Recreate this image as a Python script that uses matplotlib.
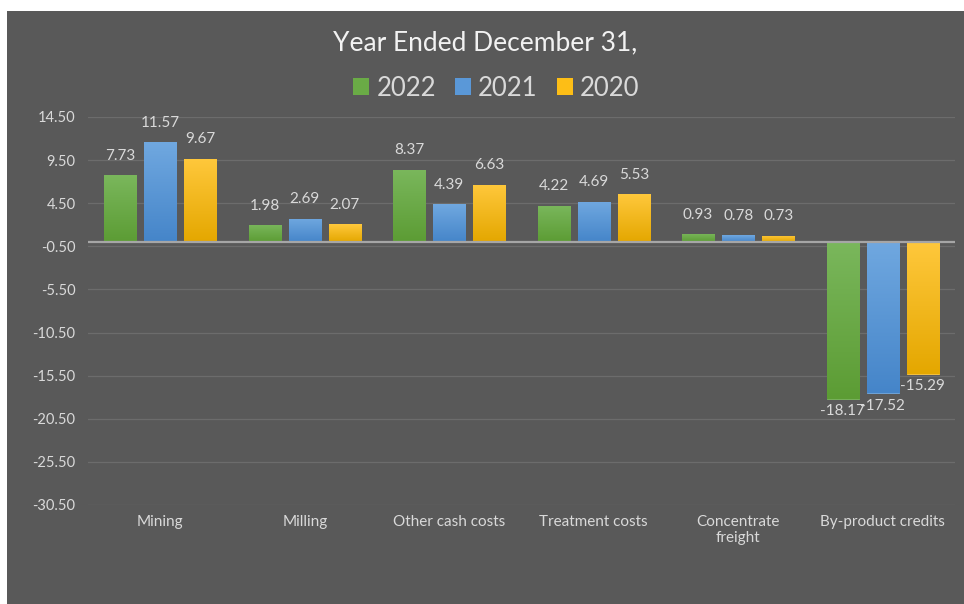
import matplotlib.pyplot as plt
import numpy as np
from matplotlib.colors import LinearSegmentedColormap
from matplotlib.patches import Rectangle, Patch

plt.rcParams['font.family'] = ['Lato', 'DejaVu Sans']

categories = ['Mining', 'Milling', 'Other cash costs', 'Treatment costs',
              'Concentrate\nfreight', 'By-product credits']
years = ['2022', '2021', '2020']
values_2022 = [7.73, 1.98, 8.37, 4.22, 0.93, -18.17]
values_2021 = [11.57, 2.69, 4.39, 4.69, 0.78, -17.52]
values_2020 = [9.67, 2.07, 6.63, 5.53, 0.73, -15.29]
yticks = [14.50, 9.50, 4.50, -0.50, -5.50, -10.50, -15.50, -20.50, -25.50, -30.50]

series = [values_2022, values_2021, values_2020]
# (top colour, bottom colour) for the vertical gradient on each bar
shades = [('#7ab75c', '#5c9c34'), ('#70a8e0', '#4585c9'), ('#ffc83c', '#e4a700')]
legend_colors = ['#6aab46', '#5a98d8', '#fdbe16']

bg = '#595959'
txt = '#d9d9d9'

fig = plt.figure(figsize=(9.64, 6.04), dpi=100, facecolor='white')
fig.patches.append(Rectangle((7 / 964, 0), 1, 1 - 11 / 604, transform=fig.transFigure,
                             facecolor=bg, edgecolor='none', zorder=-10))

ax = fig.add_axes([88 / 964, 1 - 505 / 604, (955 - 88) / 964, (505 - 117) / 604])
ax.set_zorder(1)
ax.patch.set_alpha(0)

x = np.arange(len(categories))
width = 0.222
step = 0.278
ymin, ymax = -30.5, 14.5

for i, (vals, (c_top, c_bot)) in enumerate(zip(series, shades)):
    cmap = LinearSegmentedColormap.from_list(f'g{i}', [c_bot, c_top])
    grad = np.linspace(0, 1, 256).reshape(-1, 1)
    bars = ax.bar(x + (i - 1) * step, vals, width, color=c_top, edgecolor=c_top,
                  linewidth=0.6, zorder=3)
    for b, v in zip(bars, vals):
        x0 = b.get_x()
        y_lo, y_hi = min(0, v), max(0, v)
        im = ax.imshow(grad, cmap=cmap, origin='lower', aspect='auto',
                       extent=[x0, x0 + b.get_width(), y_lo, y_hi], zorder=3.5)
        im.set_clip_path(b)
        if v >= 0:
            ax.annotate(f'{v:.2f}', (b.get_x() + b.get_width() / 2, v),
                        xytext=(0, 14), textcoords='offset points',
                        ha='center', va='center', fontsize=11, color=txt)
        else:
            ax.annotate(f'{v:.2f}', (b.get_x() + b.get_width() / 2, v),
                        xytext=(0, -9), textcoords='offset points',
                        ha='center', va='center', fontsize=11, color=txt)

ax.set_xlim(-0.5, len(categories) - 0.5)
ax.set_ylim(ymin, ymax)
ax.set_yticks(yticks)
ax.set_yticklabels([f'{t:.2f}' for t in yticks])
ax.set_xticks(x)
ax.set_xticklabels(categories)
ax.grid(axis='y', color='#6c6c6c', linewidth=0.9, zorder=1)
ax.axhline(0, color='#a6a6a6', linewidth=1.6, zorder=4)
ax.tick_params(axis='y', length=0, pad=9, labelsize=10.5, labelcolor=txt)
ax.tick_params(axis='x', length=0, pad=7, labelsize=11, labelcolor=txt)
for s in ax.spines.values():
    s.set_visible(False)

fig.text(0.503, 1 - 43 / 604, 'Year Ended December 31,', ha='center', va='center',
         fontsize=19, color='#f2f2f2')
handles = [Patch(facecolor=c, edgecolor='none') for c in legend_colors]
fig.legend(handles, years, loc='center', bbox_to_anchor=(0.515, 1 - 88 / 604), ncol=3,
           frameon=False, fontsize=18.5, labelcolor=txt, handlelength=0.6,
           handleheight=0.6, handletextpad=0.3, columnspacing=0.75)

fig.savefig('out.png', dpi=100, facecolor='white')
